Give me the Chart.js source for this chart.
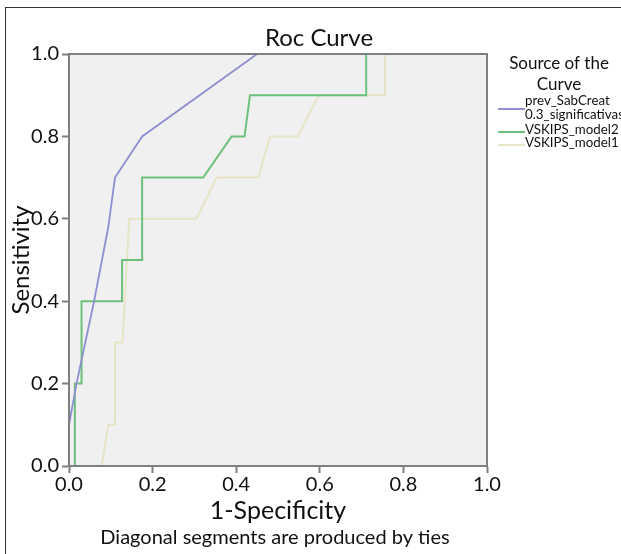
<!DOCTYPE html>
<html>
<head>
<meta charset="utf-8">
<script src="https://cdn.jsdelivr.net/npm/chart.js@4"></script>
<style>
  body { margin: 0; background: #fff; }
  #wrap { width: 621px; height: 554px; }
</style>
</head>
<body>
<div id="wrap"><canvas id="roc" width="621" height="554"></canvas></div>
<script>
// --- DATA ---
const seriesNames = ['prev_SabCreat 0.3_significativas', 'VSKIPS_model2', 'VSKIPS_model1'];

// prev_SabCreat 0.3_significativas
const sabX = [0, 0, 0.018, 0.06, 0.094, 0.11, 0.175, 0.45, 1.0];
const sabY = [0, 0.1, 0.2, 0.4, 0.58, 0.7, 0.8, 1.0, 1.0];

// VSKIPS_model2
const m2X = [0.014, 0.014, 0.03, 0.03, 0.127, 0.127, 0.175, 0.175, 0.321, 0.389, 0.42, 0.433, 0.711, 0.711, 1.0];
const m2Y = [0, 0.2, 0.2, 0.4, 0.4, 0.5, 0.5, 0.7, 0.7, 0.8, 0.8, 0.9, 0.9, 1.0, 1.0];

// VSKIPS_model1
const m1X = [0.078, 0.094, 0.11, 0.11, 0.128, 0.144, 0.305, 0.353, 0.453, 0.481, 0.547, 0.598, 0.756, 0.756, 1.0];
const m1Y = [0, 0.1, 0.1, 0.3, 0.3, 0.6, 0.6, 0.7, 0.7, 0.8, 0.8, 0.9, 0.9, 1.0, 1.0];

const axisTicks = [0, 0.2, 0.4, 0.6, 0.8, 1.0];

const lineColors = ['#8d8fd0', '#6cc07a', '#e7e4c6'];

// turn x/y arrays into point objects
function toPoints(xs, ys) {
    return xs.map((x, i) => ({ x: x, y: ys[i] }));
}

const FONT = 'Lato, "Open Sans", sans-serif';

// background, frame, title, legend and footnote
const decorPlugin = {
    id: 'decor',
    beforeDraw(chart) {
        const { ctx, chartArea: a } = chart;
        ctx.save();
        ctx.fillStyle = '#f0f0f0';
        ctx.fillRect(a.left, a.top, a.right - a.left, a.bottom - a.top);
        ctx.restore();
    },
    afterDraw(chart) {
        const { ctx, chartArea: a } = chart;
        ctx.save();
        // plot frame (top & right)
        ctx.strokeStyle = '#7f7f7f';
        ctx.lineWidth = 2;
        ctx.strokeRect(a.left, a.top, a.right - a.left, a.bottom - a.top);

        // outer box
        ctx.strokeStyle = '#333';
        ctx.lineWidth = 1;
        ctx.strokeRect(5.5, 7.5, 640, 600);

        ctx.fillStyle = '#111';
        ctx.textAlign = 'center';
        ctx.textBaseline = 'middle';
        ctx.font = '24px ' + FONT;
        ctx.fillText('Roc Curve', 319, 38);

        ctx.font = '20px ' + FONT;
        ctx.fillText('Diagonal segments are produced by ties', 275, 538);

        // legend
        ctx.font = '17px ' + FONT;
        ctx.fillText('Source of the', 559, 64);
        ctx.fillText('Curve', 559, 85);

        ctx.textAlign = 'left';
        ctx.font = '13.3px ' + FONT;
        const rows = [
            { lines: ['prev_SabCreat', '0.3_significativas'], y: 101, lineY: 109 },
            { lines: [seriesNames[1]], y: 130, lineY: 132 },
            { lines: [seriesNames[2]], y: 143, lineY: 145 }
        ];
        rows.forEach((r, i) => {
            ctx.strokeStyle = lineColors[i];
            ctx.lineWidth = 2;
            ctx.beginPath();
            ctx.moveTo(498, r.lineY);
            ctx.lineTo(525, r.lineY);
            ctx.stroke();
            r.lines.forEach((t, j) => ctx.fillText(t, 525, r.y + j * 14));
        });
        ctx.restore();
    }
};

const ctx = document.getElementById('roc').getContext('2d');

new Chart(ctx, {
    type: 'scatter',
    data: {
        datasets: [
            { label: seriesNames[0], data: toPoints(sabX, sabY), borderColor: lineColors[0], borderWidth: 1.8 },
            { label: seriesNames[1], data: toPoints(m2X, m2Y), borderColor: lineColors[1], borderWidth: 2 },
            { label: seriesNames[2], data: toPoints(m1X, m1Y), borderColor: lineColors[2], borderWidth: 2 }
        ].map(d => Object.assign(d, { showLine: true, pointRadius: 0, tension: 0, fill: false }))
    },
    options: {
        responsive: false,
        animation: false,
        layout: { padding: { top: 54, right: 134, bottom: 0, left: 0 } },
        plugins: {
            legend: { display: false },
            title: { display: false },
            tooltip: { enabled: false }
        },
        scales: {
            x: {
                type: 'linear',
                min: 0,
                max: 1,
                afterFit: s => { s.height = 88; },
                afterBuildTicks: s => { s.ticks = axisTicks.map(v => ({ value: v })); },
                ticks: { color: '#111', font: { size: 20, family: FONT }, padding: 0, maxRotation: 0, callback: v => v.toFixed(1) },
                grid: { drawOnChartArea: false, tickColor: '#7f7f7f', tickLength: 7, tickWidth: 2 },
                border: { color: '#7f7f7f', width: 2 },
                title: { display: true, text: '1-Specificity', color: '#111', font: { size: 25, family: FONT }, padding: { top: 0, bottom: 28 } }
            },
            y: {
                type: 'linear',
                min: 0,
                max: 1,
                afterFit: s => { s.width = 69; },
                afterBuildTicks: s => { s.ticks = axisTicks.map(v => ({ value: v })); },
                ticks: { color: '#111', font: { size: 20, family: FONT }, padding: 3, callback: v => v.toFixed(1) },
                grid: { drawOnChartArea: false, tickColor: '#7f7f7f', tickLength: 7, tickWidth: 2 },
                border: { color: '#7f7f7f', width: 2 },
                title: { display: true, text: 'Sensitivity', color: '#111', font: { size: 24, family: FONT }, padding: { top: 7, bottom: 0 } }
            }
        }
    },
    plugins: [decorPlugin]
});
</script>
</body>
</html>
